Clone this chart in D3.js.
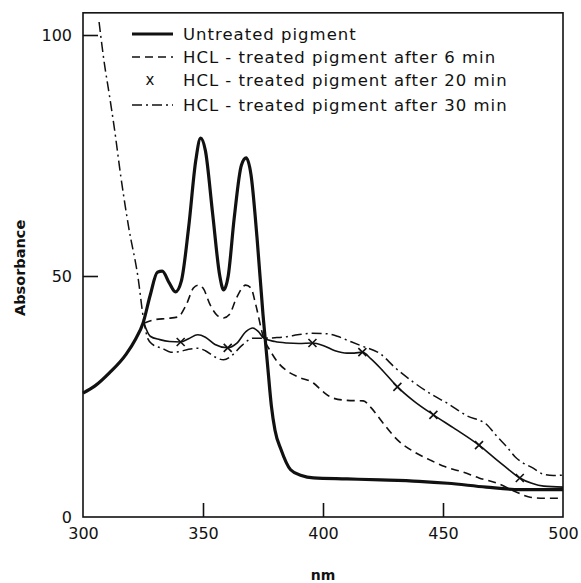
<!DOCTYPE html>
<html><head><meta charset="utf-8">
<script src="https://cdn.jsdelivr.net/npm/d3@7"></script>
<style>body{margin:0;background:#fff}svg{display:block}text{font-family:"DejaVu Sans",sans-serif;fill:#111}</style>
</head><body><svg id="c" width="581" height="583"></svg>
<script>
const xTicks = [300, 350, 400, 450, 500];
const yTicks = [0, 50, 100];
const seriesNames = ["Untreated pigment", "HCL - treated pigment after 6 min", "HCL - treated pigment after 20 min", "HCL - treated pigment after 30 min"];

const untreatedWl = [300,305,311,318,322,325,328,331,333,336,338.5,341,344,347,349,351,354,357,358.6,360.5,363,366,368,370,372.5,375,377,378.5,380,382.5,386.5,391,396,410,424,440,452,468,482,500];
const untreatedAbs = [25.7,27.2,29.9,33.8,37,40.2,46,50.8,51,48.5,46.7,49,60,74,78.6,76,63,50,47.1,50,62,73,74.5,71,58,42,31,23,18,14,9.8,8.6,8.1,7.9,7.7,7.4,7.0,6.2,5.7,5.7];

const min6Wl = [325.4,329.5,335,339.5,343,346,348,350,353,356,358.6,361,364,367.8,370,372,375.3,378,381,385,390,396,400,404,410,416.8,419.8,425,431,438,444.7,451,458.4,465,472.6,480,486.3,492,500];
const min6Abs = [40.2,40.9,41.2,41.5,44,47.5,48.1,47.5,44,41.8,41.3,42,45.5,48.1,47.5,44,37.1,34.5,32.2,30.3,29,27.8,26,24.7,24.2,24.1,22.8,19.5,16,13.5,11.8,10.4,9.3,8.1,7.0,5.3,4.1,3.9,3.9];

const min20Wl = [325.4,328,332,336,340.7,344,347.8,351,355,360.3,364,368,370.7,373,375.3,380,385,390,395.6,400,405,410,413,416.4,420,425,431,438,446,455,465,472,477,482,487,492,500];
const min20Abs = [40.2,37.5,36.8,36.4,36.3,37,37.8,37.3,35.8,35.1,36,38.5,39.2,38.5,37.1,36.4,36.1,36,36.1,35.6,34.5,34,34,34.2,32.8,30.3,27,24,21.2,18.3,14.9,12,10,8.1,7,6.4,6.2];
const min20MarkWl = [340.7,360.3,395.6,416.4,431,446,465,482];

const min30Wl = [306.7,308.7,311,313,315.8,319,322.9,325.4,327,329,333,336.6,340,344,347.8,351,355,358.6,362,366,371,375,380,385,389.4,395,401.9,406,410,416,424,430,437.6,445,451.8,460,468.4,472,476.7,480,483.4,487,491.7,496,500];
const min30Abs = [102.7,94.8,87.5,80.9,70.5,60.2,49.8,40.5,37,35.8,35,34.2,34.3,34.8,35,34.5,33.2,32.6,33.5,35.5,37.1,37.1,37.2,37.4,37.8,38.1,38,37.5,36.7,35.5,33.8,31,28,25.5,23.6,21,19.1,17,14.5,12.5,11.2,10.3,8.9,8.6,8.7];

const svg = d3.select("#c");
const x = d3.scaleLinear().domain([300, 500]).range([83, 563]);
const y = d3.scaleLinear().domain([0, 100]).range([517, 35]);
const yTop = 104.6;

// frame
svg.append("rect").attr("x", x(300)).attr("y", y(yTop)).attr("width", x(500) - x(300)).attr("height", y(0) - y(yTop))
  .attr("fill", "none").attr("stroke", "#111").attr("stroke-width", 1.6);

// axes with inward ticks
const xAxis = d3.axisBottom(x).tickValues(xTicks).tickSizeInner(-14).tickSizeOuter(0).tickPadding(11).tickFormat(d3.format("d"));
const gx = svg.append("g").attr("transform", `translate(0,${y(0)})`).call(xAxis);
gx.select(".domain").remove();
gx.selectAll(".tick line").attr("stroke", "#111").attr("stroke-width", 1.6).filter(d => d === 300 || d === 500).remove();
gx.selectAll(".tick text").attr("font-size", 16).style("font-family", "DejaVu Sans, sans-serif").attr("fill", "#111");

const yAxis = d3.axisLeft(y).tickValues(yTicks).tickSizeInner(-15).tickSizeOuter(0).tickPadding(11).tickFormat(d3.format("d"));
const gy = svg.append("g").attr("transform", `translate(${x(300)},0)`).call(yAxis);
gy.select(".domain").remove();
gy.selectAll(".tick line").attr("stroke", "#111").attr("stroke-width", 1.6).filter(d => d === 0).remove();
gy.selectAll(".tick text").attr("font-size", 16).style("font-family", "DejaVu Sans, sans-serif").attr("fill", "#111");

// axis titles
svg.append("text").attr("transform", `translate(25,${(y(0) + y(yTop)) / 2 + 3}) rotate(-90)`).attr("text-anchor", "middle")
  .attr("font-size", 14.5).attr("font-weight", "bold").text("Absorbance");
svg.append("text").attr("x", x(400)).attr("y", 580).attr("text-anchor", "middle").attr("font-size", 14).attr("font-weight", "bold").text("nm");

const line = d3.line().x(d => x(d[0])).y(d => y(d[1])).curve(d3.curveMonotoneX);
const zip = (a, b) => a.map((v, i) => [v, b[i]]);

svg.append("path").datum(zip(min30Wl, min30Abs)).attr("d", line).attr("fill", "none").attr("stroke", "#111")
  .attr("stroke-width", 1.5).attr("stroke-dasharray", "10,4,2,4");
svg.append("path").datum(zip(min20Wl, min20Abs)).attr("d", line).attr("fill", "none").attr("stroke", "#111").attr("stroke-width", 1.6);
svg.append("path").datum(zip(min6Wl, min6Abs)).attr("d", line).attr("fill", "none").attr("stroke", "#111")
  .attr("stroke-width", 1.6).attr("stroke-dasharray", "8,5");
svg.append("path").datum(zip(untreatedWl, untreatedAbs)).attr("d", line).attr("fill", "none").attr("stroke", "#111").attr("stroke-width", 3.2);

// x markers on 20 min curve
const interp = d3.scaleLinear().domain(min20Wl).range(min20Abs);
const sz = 4;
svg.append("g").selectAll("path").data(min20MarkWl).join("path")
  .attr("d", w => { const cx = x(w), cy = y(interp(w)); return `M${cx - sz},${cy - sz}L${cx + sz},${cy + sz}M${cx - sz},${cy + sz}L${cx + sz},${cy - sz}`; })
  .attr("stroke", "#111").attr("stroke-width", 1.6);

// legend
const lg = svg.append("g");
const rowY = [34, 57, 80, 105];
const styles = [
  {w: 3.2, dash: null},
  {w: 1.6, dash: "8,5"},
  {w: 0, dash: null},
  {w: 1.5, dash: "10,4,2,4"}
];
seriesNames.forEach((name, i) => {
  if (i === 2) {
    lg.append("text").attr("x", 150).attr("y", rowY[i]).attr("dy", "0.35em").attr("text-anchor", "middle").attr("font-size", 15).text("x");
  } else {
    lg.append("line").attr("x1", 132).attr("x2", 173).attr("y1", rowY[i]).attr("y2", rowY[i])
      .attr("stroke", "#111").attr("stroke-width", styles[i].w).attr("stroke-dasharray", styles[i].dash);
  }
  lg.append("text").attr("x", 183).attr("y", rowY[i]).attr("dy", "0.35em").attr("font-size", 16.5)
    .attr("letter-spacing", 1).text(name);
});
</script></body></html>
